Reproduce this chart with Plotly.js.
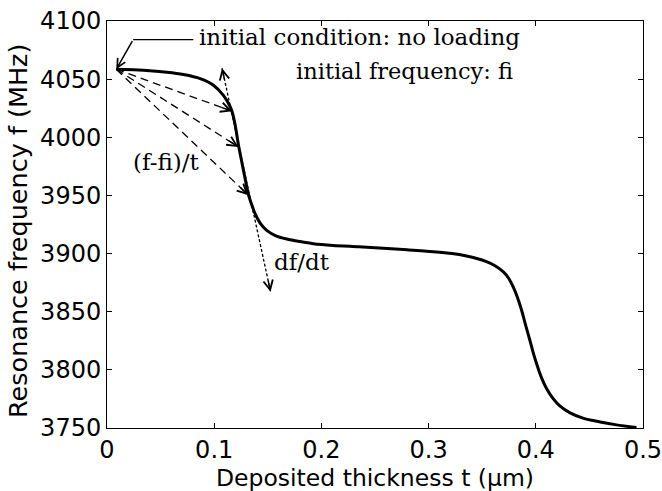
<!DOCTYPE html>
<html>
<head>
<meta charset="utf-8">
<script src="https://cdn.plot.ly/plotly-3.0.1.min.js"></script>
<style>html,body{margin:0;padding:0;background:#fff;}#chart{width:662px;height:491px;}</style>
</head>
<body>
<div id="chart"></div>
<script>
// Curve data: deposited thickness (µm) vs resonance frequency (MHz)
var thickness = [0.0086, 0.025, 0.04, 0.056, 0.0713, 0.0869, 0.0993, 0.1086, 0.1148, 0.1167, 0.1195, 0.1226, 0.1272, 0.1319, 0.135, 0.138, 0.143, 0.149, 0.157, 0.1677, 0.18, 0.1925, 0.211, 0.235, 0.2577, 0.28, 0.3043, 0.322, 0.3354, 0.345, 0.354, 0.362, 0.3695, 0.3745, 0.3788, 0.3828, 0.3867, 0.3905, 0.3944, 0.3975, 0.4006, 0.405, 0.41, 0.416, 0.4224, 0.432, 0.444, 0.46, 0.4752, 0.4939];
var frequency = [4058.5, 4058.0, 4057.3, 4056.0, 4054.0, 4050.5, 4044.8, 4036.0, 4026.5, 4022.0, 4011.0, 3993.5, 3972.0, 3951.0, 3942.0, 3934.5, 3926.0, 3920.0, 3915.5, 3912.5, 3910.3, 3908.5, 3907.0, 3905.8, 3904.5, 3903.2, 3901.6, 3900.0, 3897.9, 3895.8, 3893.0, 3889.5, 3884.4, 3879.0, 3871.5, 3862.5, 3851.5, 3838.5, 3825.7, 3815.0, 3805.7, 3794.0, 3784.0, 3775.5, 3769.0, 3763.0, 3758.5, 3755.2, 3752.7, 3750.5];

// Axis ticks
var xTickVals = [0, 0.1, 0.2, 0.3, 0.4, 0.5];
var xTickText = ["0", "0.1", "0.2", "0.3", "0.4", "0.5"];
var yTickVals = [3750, 3800, 3850, 3900, 3950, 4000, 4050, 4100];

// Annotation geometry (data coordinates)
var initPoint = [0.0086, 4058.5];                 // initial condition
var secantTips = [[0.1167, 4022.4], [0.1226, 3991.7], [0.1319, 3950.2]];
var tangentTop = [0.1073, 4059.4];
var tangentBottom = [0.1526, 3867.1];
var leaderStart = [0.0805, 4084.0];               // end of horizontal leader at the text
var leaderBend = [0.0244, 4084.0];

// Texts
var labelInitCond = "initial condition: no loading";
var labelInitFreq = "initial frequency: fi";
var labelSecant = "(f-fi)/t";
var labelTangent = "df/dt";
var xTitle = "Deposited thickness t (\u03bcm)";
var yTitle = "Resonance frequency f (MHz)";

var serif = "DejaVu Serif, serif";
var sans = "DejaVu Sans, sans-serif";

var W = 662, H = 491;
var margin = {l: 107, r: 19, t: 21, b: 63};
var xRange = [0, 0.5], yRange = [3750, 4100];
var plotW = W - margin.l - margin.r, plotH = H - margin.t - margin.b;
var pxX = plotW / (xRange[1] - xRange[0]);
var pxY = plotH / (yRange[1] - yRange[0]);

var traces = [];
traces.push({x: thickness, y: frequency, mode: 'lines', line: {color: 'black', width: 3, shape: 'spline', smoothing: 0.8}, hoverinfo: 'skip'});

// dashed secant lines
secantTips.forEach(function (tip) {
  traces.push({x: [initPoint[0], tip[0]], y: [initPoint[1], tip[1]], mode: 'lines',
    line: {color: 'black', width: 1.3, dash: '8px,5px'}, hoverinfo: 'skip'});
});
// dotted tangent
traces.push({x: [tangentTop[0], tangentBottom[0]], y: [tangentTop[1], tangentBottom[1]], mode: 'lines',
  line: {color: 'black', width: 1.3, dash: '3px,2px'}, hoverinfo: 'skip'});
// leader line for the initial-condition label
traces.push({x: [leaderStart[0], leaderBend[0]], y: [leaderStart[1], leaderBend[1]], mode: 'lines',
  line: {color: 'black', width: 1.4}, hoverinfo: 'skip'});

function head(tip, tail, len) {
  var dx = (tail[0] - tip[0]) * pxX;
  var dy = -(tail[1] - tip[1]) * pxY;
  var d = Math.sqrt(dx * dx + dy * dy);
  return {x: tip[0], y: tip[1], xref: 'x', yref: 'y', text: '', showarrow: true,
    ax: dx / d * len, ay: dy / d * len, arrowhead: 5, arrowsize: 1.25, arrowwidth: 1.5, arrowcolor: 'black'};
}

var annotations = [];
secantTips.forEach(function (tip) { annotations.push(head(tip, initPoint, 13)); });
annotations.push(head(tangentTop, tangentBottom, 13));
annotations.push(head(tangentBottom, tangentTop, 13));
// initial condition arrow (solid, from bend to initial point)
annotations.push({x: initPoint[0], y: initPoint[1], xref: 'x', yref: 'y', axref: 'x', ayref: 'y',
  ax: leaderBend[0], ay: leaderBend[1], text: '', showarrow: true, arrowhead: 5, arrowsize: 1.15, arrowwidth: 1.5, arrowcolor: 'black'});

annotations.push({x: 0.0842, y: 4086, xref: 'x', yref: 'y', xanchor: 'left', yanchor: 'middle', showarrow: false,
  text: labelInitCond, font: {family: serif, size: 23, color: 'black'}});
annotations.push({x: 0.3804, y: 4057, xref: 'x', yref: 'y', xanchor: 'right', yanchor: 'middle', showarrow: false,
  text: labelInitFreq, font: {family: serif, size: 22.5, color: 'black'}});
annotations.push({x: 0.0225, y: 3979, xref: 'x', yref: 'y', xanchor: 'left', yanchor: 'middle', showarrow: false,
  text: labelSecant, font: {family: serif, size: 23, color: 'black'}});
annotations.push({x: 0.154, y: 3893, xref: 'x', yref: 'y', xanchor: 'left', yanchor: 'middle', showarrow: false,
  text: labelTangent, font: {family: serif, size: 23, color: 'black'}});

// axis titles placed precisely as paper annotations
annotations.push({x: 0.5, y: (margin.t + plotH - 478) / plotH, xref: 'paper', yref: 'paper',
  xanchor: 'center', yanchor: 'middle', showarrow: false, borderpad: 0,
  text: xTitle, font: {family: sans, size: 23.5, color: 'black'}});
annotations.push({x: (18 - margin.l) / plotW, y: (margin.t + plotH - 231) / plotH, xref: 'paper', yref: 'paper',
  xanchor: 'center', yanchor: 'middle', showarrow: false, textangle: -90,
  text: yTitle, font: {family: sans, size: 25.5, color: 'black'}});

var axisCommon = {showgrid: false, zeroline: false, showline: true, linecolor: 'black', linewidth: 1,
  mirror: 'ticks', ticks: 'inside', ticklen: 5, tickwidth: 1, tickcolor: 'black',
  ticklabeloverflow: 'allow',
  tickfont: {family: sans, size: 24, color: 'black'}, fixedrange: true};

var layout = {
  width: W, height: H, margin: margin, showlegend: false,
  paper_bgcolor: 'white', plot_bgcolor: 'white',
  xaxis: Object.assign({}, axisCommon, {range: xRange, tickvals: xTickVals, ticktext: xTickText}),
  yaxis: Object.assign({}, axisCommon, {range: yRange, tickvals: yTickVals}),
  annotations: annotations
};

Plotly.newPlot('chart', traces, layout, {staticPlot: true, displayModeBar: false});
</script>
</body>
</html>
